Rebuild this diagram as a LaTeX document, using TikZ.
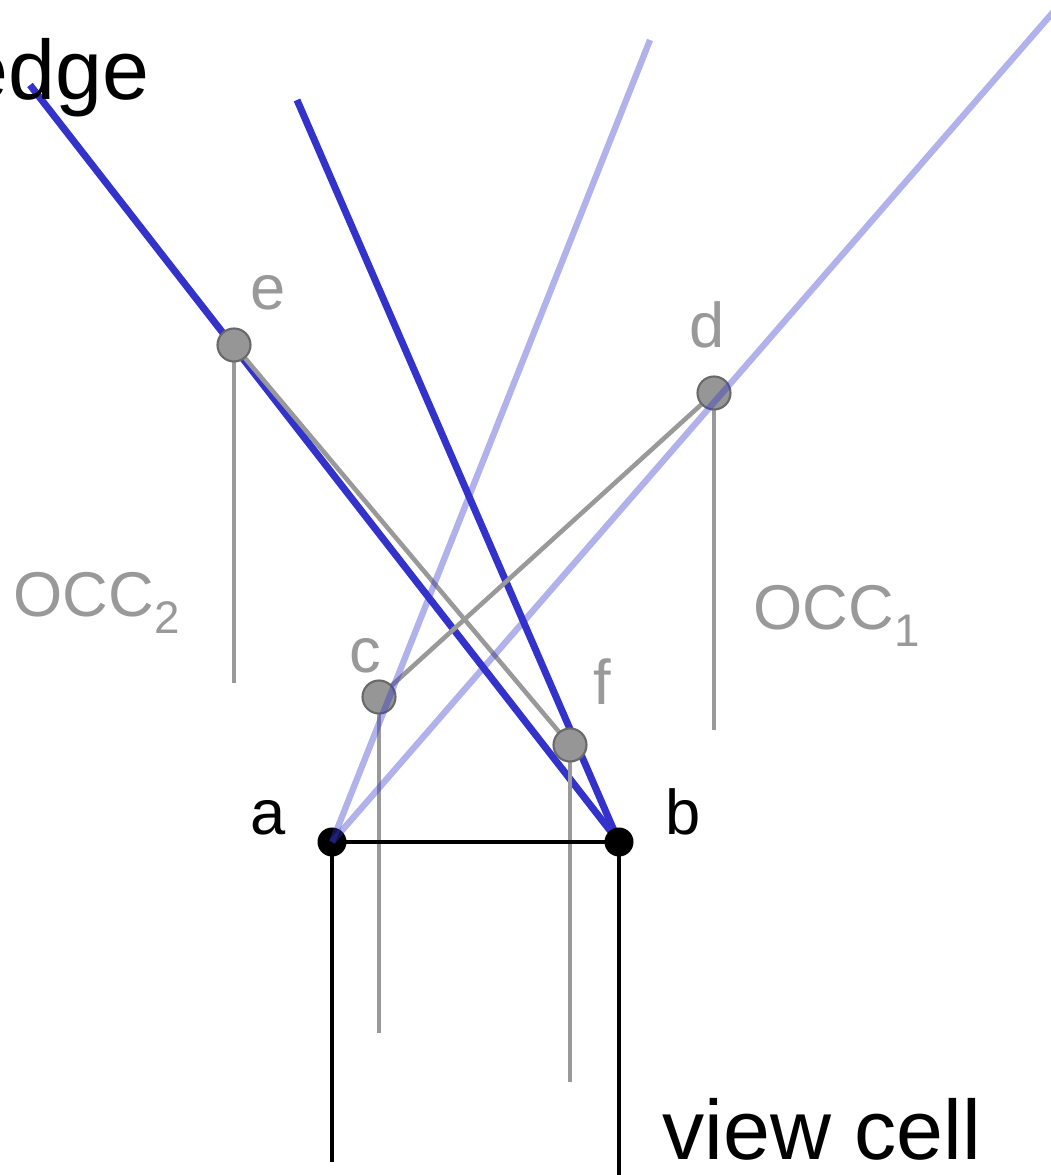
\documentclass[tikz,border=0pt]{standalone}
\usepackage{fontspec}
\setmainfont{Liberation Sans}

\definecolor{rayblue}{RGB}{51,51,204}
\definecolor{occgray}{RGB}{153,153,153}
\definecolor{ptgray}{RGB}{150,150,150}
\definecolor{ptedge}{RGB}{105,105,105}

\newcommand{\lowsub}[1]{\raisebox{-0.17cm}{\fontsize{13}{14}\selectfont #1}}

\begin{document}
\begin{tikzpicture}[
  ray/.style={draw=rayblue, line width=2pt},
  faintray/.style={draw=rayblue, draw opacity=0.38, line width=1.8pt},
  occline/.style={draw=occgray, line width=1.3pt},
  cellline/.style={draw=black, line width=1.3pt},
  occpt/.style={circle, fill=ptgray, draw=ptedge, line width=0.6pt, minimum size=0.33cm, inner sep=0pt},
  cellpt/.style={circle, fill=black, minimum size=0.29cm, inner sep=0pt},
  graylbl/.style={font=\fontsize{18}{20}\selectfont, text=occgray, anchor=base, inner sep=0pt},
  blacklbl/.style={font=\fontsize{18}{20}\selectfont, anchor=base, inner sep=0pt}
]
  \useasboundingbox (0,0) rectangle (10.51,11.75);

  % view cell corners and occluder points
  \coordinate (a) at (3.32, 3.33);
  \coordinate (b) at (6.19, 3.33);
  \coordinate (c) at (3.79, 4.78);
  \coordinate (d) at (7.14, 7.82);
  \coordinate (e) at (2.34, 8.30);
  \coordinate (f) at (5.70, 4.30);

  % free ends of the rays and drop lines
  \coordinate (edgetop) at (0.30, 10.90);
  \coordinate (raytop) at (2.97, 10.75);
  \coordinate (faintl) at (6.50, 11.35);
  \coordinate (faintr) at (10.55, 11.65);
  \coordinate (edrop) at (2.34, 4.92);
  \coordinate (ddrop) at (7.14, 4.45);
  \coordinate (cdrop) at (3.79, 1.42);
  \coordinate (fdrop) at (5.70, 0.93);
  \coordinate (adrop) at (3.32, 0.13);
  \coordinate (bdrop) at (6.19, -0.05);

  % dark rays through b
  \draw[ray] (edgetop) -- (b);
  \draw[ray] (raytop) -- (b);

  % occluder lines
  \draw[occline] (e) -- (f);
  \draw[occline] (d) -- (c);
  \draw[occline] (e) -- (edrop);
  \draw[occline] (d) -- (ddrop);
  \draw[occline] (c) -- (cdrop);
  \draw[occline] (f) -- (fdrop);

  \node[occpt] (pe) at (e) {};
  \node[occpt] (pd) at (d) {};
  \node[occpt] (pc) at (c) {};
  \node[occpt] (pf) at (f) {};

  % view cell
  \draw[cellline] (a) -- (b);
  \draw[cellline] (a) -- (adrop);
  \draw[cellline] (b) -- (bdrop);
  \node[cellpt] (pa) at (a) {};
  \node[cellpt] (pb) at (b) {};

  % faint rays through a
  \draw[faintray] (faintl) -- (a);
  \draw[faintray] (faintr) -- (a);

  % labels
  \node[font=\fontsize{24}{28}\selectfont, anchor=base east, inner sep=0pt] (edgelbl) at (1.50, 10.75) {edge};
  \node[font=\fontsize{24}{28}\selectfont, anchor=base west, inner sep=0pt] (celllbl) at (6.62, 0.15) {view cell};
  \node[blacklbl] (lbla) at (2.68, 3.40) {a};
  \node[blacklbl] (lblb) at (6.83, 3.40) {b};
  \node[graylbl] (lble) at (2.68, 8.65) {e};
  \node[graylbl] (lbld) at (7.07, 8.27) {d};
  \node[graylbl] (lblc) at (3.65, 5.02) {c};
  \node[graylbl] (lblf) at (6.02, 4.70) {f};
  \node[graylbl, anchor=base west] (occtwo) at (0.13, 5.58) {OCC\lowsub{2}};
  \node[graylbl, anchor=base west] (occone) at (7.53, 5.45) {OCC\lowsub{1}};
\end{tikzpicture}
\end{document}
